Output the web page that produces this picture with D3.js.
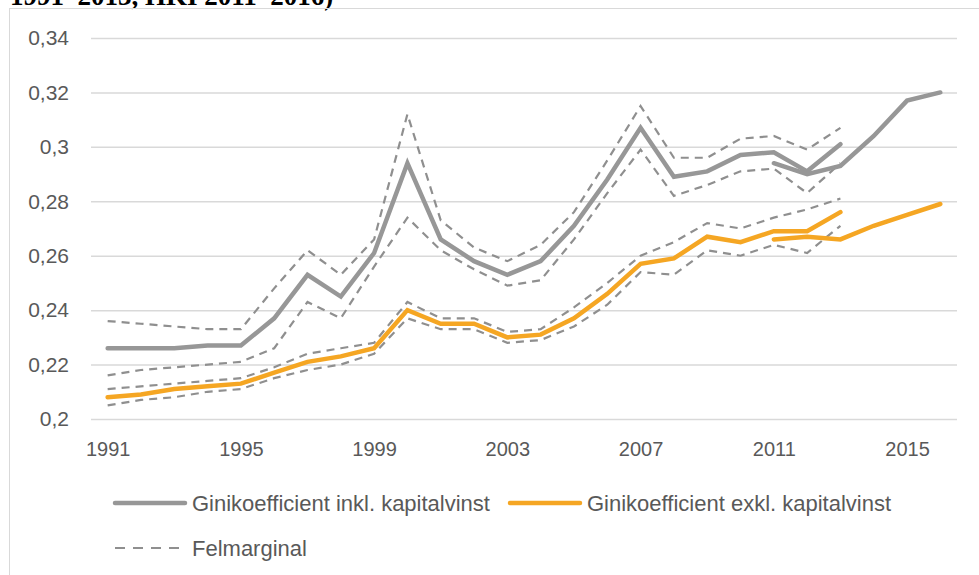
<!DOCTYPE html>
<html lang="sv">
<head>
    <meta charset="UTF-8">
    <title>Ginikoefficient</title>
    <style>
        body,html{
            margin:0;
            padding:0;
            border:0;
            background:#fff;
        }
        svg text{ font-family:"Liberation Sans", Arial, sans-serif; fill:#595959; }
    </style>
</head>
<body>
    <svg id="svg" width="979" height="575"></svg>
    <script type="text/javascript" src="https://cdnjs.cloudflare.com/ajax/libs/d3/7.8.5/d3.min.js"></script>
    <script type="text/javascript">
        // years on the category axis
        var years = d3.range(1991, 2017);
        var yTicks = [0.2, 0.22, 0.24, 0.26, 0.28, 0.3, 0.32, 0.34];

        // series 1991-2013
        var inkl = [0.226,0.226,0.226,0.227,0.227,0.237,0.253,0.245,0.261,0.294,0.266,0.258,0.253,0.258,0.271,0.288,0.307,0.289,0.291,0.297,0.298,0.291,0.301];
        var inklUpper = [0.236,0.235,0.234,0.233,0.233,0.248,0.262,0.253,0.266,0.312,0.273,0.263,0.258,0.264,0.276,0.295,0.315,0.296,0.296,0.303,0.304,0.299,0.307];
        var inklLower = [0.216,0.218,0.219,0.220,0.221,0.226,0.243,0.237,0.256,0.274,0.262,0.255,0.249,0.251,0.266,0.283,0.299,0.282,0.286,0.291,0.292,0.283,0.294];
        var exkl = [0.208,0.209,0.211,0.212,0.213,0.217,0.221,0.223,0.226,0.240,0.235,0.235,0.230,0.231,0.237,0.246,0.257,0.259,0.267,0.265,0.269,0.269,0.276];
        var exklUpper = [0.211,0.212,0.213,0.214,0.215,0.219,0.224,0.226,0.228,0.243,0.237,0.237,0.232,0.233,0.241,0.250,0.260,0.265,0.272,0.270,0.274,0.277,0.281];
        var exklLower = [0.205,0.207,0.208,0.210,0.211,0.215,0.218,0.220,0.224,0.237,0.233,0.233,0.228,0.229,0.234,0.242,0.254,0.253,0.262,0.260,0.264,0.261,0.271];

        // series 2011-2016
        var inkl2 = [0.294,0.290,0.293,0.304,0.317,0.320];
        var exkl2 = [0.266,0.267,0.266,0.271,0.275,0.279];

        var grey = "#979797", orange = "#f5a623", dashGrey = "#8f8f8f";

        var svg = d3.select("#svg");

        // cropped title line above the chart frame (cut off in the original too)
        svg.append("text")
            .attr("x", 10).attr("y", 5)
            .style("font-family", "'Liberation Serif', serif")
            .style("font-weight", "bold")
            .style("font-size", "27px")
            .style("fill", "#000")
            .text("1991\u20132013, HKI 2011\u20132016)");

        // chart frame
        svg.append("rect")
            .attr("x", 9.5).attr("y", 8.5)
            .attr("width", 1000).attr("height", 600)
            .attr("fill", "none").attr("stroke", "#d9d9d9");

        var x = d3.scalePoint().domain(years).range([91, 957]).padding(0.5);
        var y = d3.scaleLinear().domain([0.2, 0.34]).range([419, 38]);

        var loc = d3.formatLocale({decimal: ",", thousands: " ", grouping: [3], currency: ["", " kr"]});
        var fmt = loc.format(".2~f");

        // y axis with gridlines
        var yAxis = svg.append("g")
            .attr("transform", "translate(91,0)")
            .call(d3.axisLeft(y).tickValues(yTicks).tickFormat(fmt).tickSize(-(957 - 91)).tickPadding(22));
        yAxis.select(".domain").remove();
        yAxis.selectAll(".tick line").attr("stroke", "#d9d9d9").attr("stroke-width", 1.5);
        yAxis.selectAll(".tick text").style("font-size", "21px").style("fill", "#595959");

        // x axis
        var xAxis = svg.append("g")
            .attr("transform", "translate(0,419)")
            .call(d3.axisBottom(x).tickValues(years.filter(function(d, i){ return i % 4 === 0; })).tickSize(0).tickPadding(23));
        xAxis.select(".domain").remove();
        xAxis.selectAll(".tick text").style("font-size", "20px").style("fill", "#595959");

        function line(startYear){
            return d3.line()
                .x(function(d, i){ return x(startYear + i); })
                .y(function(d){ return y(d); });
        }

        var dashed = [inklUpper, inklLower, exklUpper, exklLower];
        svg.selectAll("path.band").data(dashed).enter().append("path")
            .attr("class", "band")
            .attr("d", line(1991))
            .attr("fill", "none")
            .attr("stroke", dashGrey)
            .attr("stroke-width", 2.2)
            .attr("stroke-dasharray", "8,6");

        var mains = [
            {values: inkl, start: 1991, color: grey},
            {values: exkl, start: 1991, color: orange},
            {values: inkl2, start: 2011, color: grey},
            {values: exkl2, start: 2011, color: orange}
        ];
        svg.selectAll("path.main").data(mains).enter().append("path")
            .attr("class", "main")
            .attr("d", function(d){ return line(d.start)(d.values); })
            .attr("fill", "none")
            .attr("stroke", function(d){ return d.color; })
            .attr("stroke-width", 4.5)
            .attr("stroke-linecap", "round");

        // legend
        var legend = [
            {label: "Ginikoefficient inkl. kapitalvinst", color: grey, x: 115, y: 503, dash: null, w: 4.5, len: 70},
            {label: "Ginikoefficient exkl. kapitalvinst", color: orange, x: 510, y: 503, dash: null, w: 4.5, len: 70},
            {label: "Felmarginal", color: dashGrey, x: 115, y: 548, dash: "10,8", w: 2.2, len: 64}
        ];
        var lg = svg.selectAll("g.legend").data(legend).enter().append("g")
            .attr("class", "legend")
            .attr("transform", function(d){ return "translate(" + d.x + "," + d.y + ")"; });
        lg.append("line")
            .attr("x1", 0).attr("x2", function(d){ return d.len; })
            .attr("stroke", function(d){ return d.color; })
            .attr("stroke-width", function(d){ return d.w; })
            .attr("stroke-dasharray", function(d){ return d.dash; })
            .attr("stroke-linecap", function(d){ return d.dash ? "butt" : "round"; });
        lg.append("text")
            .attr("x", 77).attr("dy", "0.35em")
            .style("font-size", "22px")
            .text(function(d){ return d.label; });
    </script>
</body>
</html>
